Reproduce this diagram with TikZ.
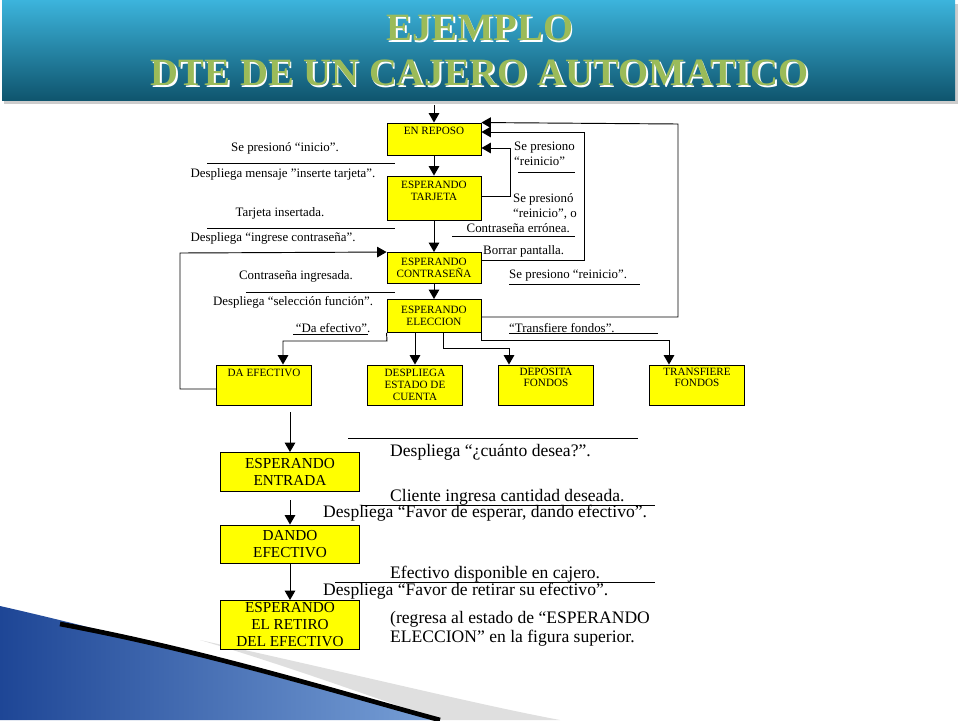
\documentclass[tikz,border=0pt]{standalone}
\usepackage{fontspec}
\setmainfont{Liberation Serif}
\usetikzlibrary{arrows.meta,shadows}
\definecolor{boxyellow}{RGB}{255,255,0}
\definecolor{titlegreen}{RGB}{155,187,89}
\definecolor{headtop}{RGB}{60,180,220}
\definecolor{headbot}{RGB}{15,85,110}
\definecolor{swoshdark}{RGB}{30,70,150}
\definecolor{swoshlight}{RGB}{120,160,215}
\tikzset{
  state/.style={draw, line width=0.8pt, fill=boxyellow, align=center, inner sep=0pt},
  small/.style={font=\fontsize{9.5}{10}\selectfont},
  big/.style={font=\fontsize{13}{14.5}\selectfont},
  lbl/.style={font=\fontsize{11}{12.5}\selectfont, inner sep=0pt},
  lblb/.style={font=\fontsize{15}{16.5}\selectfont, inner sep=0pt, anchor=west},
  flow/.style={line width=0.8pt, -{Triangle[length=8pt,width=9pt]}},
  bar/.style={line width=0.7pt}
}
\begin{document}
\begin{tikzpicture}[x=0.03cm,y=-0.03cm]
	\useasboundingbox (0,0) rectangle (960,720);
	% header
	\fill[gray!40] (4,4) rectangle (958,104);
	\shade[top color=headtop, bottom color=headbot] (2,0) rectangle (955,100);
	\foreach \t/\y in {EJEMPLO/28, DTE DE UN CAJERO AUTOMATICO/73} {
		\node[text=white, font=\fontsize{33}{35}\bfseries\selectfont] at (481.5,\y+1.5) {\t};
		\node[text=titlegreen, font=\fontsize{33}{35}\bfseries\selectfont] at (480,\y) {\t};
	}
	% swoosh
	\shade[left color=swoshdark, right color=swoshlight] (0,606) .. controls (150,640) and (320,690) .. (440,720) -- (0,720) -- cycle;
	\fill[gray!25] (200,640) .. controls (380,680) and (480,705) .. (560,720) -- (440,720) .. controls (380,700) and (300,670) .. cycle;
	\draw[line width=4pt] (60,624) .. controls (200,650) and (330,690) .. (440,720);
	% states of the upper figure
	\node[state, small, minimum width=94*0.03cm, minimum height=32*0.03cm] (reposo) at (434,139) {EN REPOSO\\[4pt]};
	\node[state, small, minimum width=94*0.03cm, minimum height=44*0.03cm] (tarjeta) at (434,198) {ESPERANDO\\TARJETA\\[2pt]};
	\node[state, small, minimum width=94*0.03cm, minimum height=31*0.03cm] (contra) at (434,268) {ESPERANDO\\CONTRASEÑA};
	\node[state, small, minimum width=94*0.03cm, minimum height=33*0.03cm] (eleccion) at (434,316) {ESPERANDO\\ELECCION};
	\node[state, small, minimum width=95*0.03cm, minimum height=40*0.03cm] (daef) at (264,385) {DA EFECTIVO\\[10pt]};
	\node[state, small, minimum width=95*0.03cm, minimum height=40*0.03cm] (estado) at (415,385) {DESPLIEGA\\ESTADO DE\\CUENTA};
	\node[state, small, minimum width=95*0.03cm, minimum height=40*0.03cm] (deposita) at (546,385) {DEPOSITA\\FONDOS\\[3pt]};
	\node[state, small, minimum width=95*0.03cm, minimum height=40*0.03cm] (transf) at (697,385) {TRANSFIERE\\FONDOS\\[3pt]};
	% states of the lower figure
	\node[state, big, minimum width=139*0.03cm, minimum height=39*0.03cm] (entrada) at (290,472) {ESPERANDO\\ENTRADA};
	\node[state, big, minimum width=139*0.03cm, minimum height=38*0.03cm] (dando) at (290,544) {DANDO\\EFECTIVO};
	\node[state, big, minimum width=139*0.03cm, minimum height=49*0.03cm] (retiro) at (290,625) {ESPERANDO\\EL RETIRO\\DEL EFECTIVO};
	\coordinate (start) at (434,105);
	\coordinate (down) at (290,412);
	% transitions
	\draw[flow] (start) -- (reposo);
	\draw[flow] (reposo) -- (tarjeta);
	\draw[flow] (tarjeta) -- (contra);
	\draw[flow] (contra) -- (eleccion);
	\draw[flow] (tarjeta.east |- 0,196) -| (510,148) -- (reposo.east |- 0,148);
	\draw[flow] (contra.east |- 0,260) -| (584,132) -- (reposo.east |- 0,132);
	\draw[flow] (eleccion.east |- 0,317) -| (678,124) -- (reposo.north east);
	\draw[flow] (daef.west |- 0,389) -| (180,253) -- (contra.north west);
	\draw[flow] (eleccion.south west) -- (387,341) -| (daef.north -| 283,0);
	\draw[flow] (eleccion.south -| estado.north) -- (estado.north);
	\draw[flow] (eleccion.south -| 443,0) |- (509,348) -- (deposita.north -| 509,0);
	\draw[flow] (eleccion.south east) |- (669,340) -- (transf.north -| 669,0);
	\draw[flow] (down) -- (entrada);
	\draw[flow] (entrada.south |- 0,500) -- (dando);
	\draw[flow] (dando) -- (retiro);
	% labels of the upper figure
	\node[lbl] at (285,148) {Se presionó “inicio”.};
	\draw[bar] (207,163) -- (395,163);
	\node[lbl] at (283,174) {Despliega mensaje ”inserte tarjeta”.};
	\node[lbl] at (280,213) {Tarjeta insertada.};
	\draw[bar] (207,228) -- (395,228);
	\node[lbl] at (273,238) {Despliega “ingrese contraseña”.};
	\node[lbl] at (296,276) {Contraseña ingresada.};
	\draw[bar] (246,292) -- (395,292);
	\node[lbl] at (293,302) {Despliega “selección función”.};
	\node[lbl] at (333,328) {“Da efectivo”.};
	\draw[bar] (293,334) -- (368,334);
	\node[lbl, align=left, anchor=west] at (514,154) {Se presiono\\“reinicio”};
	\draw[bar] (518,172) -- (575,172);
	\node[lbl, align=left, anchor=east] at (577,213) {\hspace*{3.6em}Se presionó\\\hspace*{3.6em}“reinicio”, o\\Contraseña errónea.};
	\draw[bar] (452,236) -- (575,236);
	\node[lbl, anchor=west] at (483,251) {Borrar pantalla.};
	\node[lbl, anchor=west] at (509,276) {Se presiono “reinicio”.};
	\draw[bar] (509,284) -- (640,284);
	\node[lbl, anchor=west] at (509,328) {“Transfiere fondos”.};
	\draw[bar] (509,333) -- (658,333);
	% labels of the lower figure
	\draw[bar] (348,438) -- (638,438);
	\node[lblb] at (390,452) {Despliega “¿cuánto desea?".};
	\node[lblb] at (390,497) {Cliente ingresa cantidad deseada.};
	\draw[bar] (362,505) -- (655,505);
	\node[lblb] at (323,513) {Despliega “Favor de esperar, dando efectivo”.};
	\node[lblb] at (390,574) {Efectivo disponible en cajero.};
	\draw[bar] (335,582) -- (655,582);
	\node[lblb] at (323,591) {Despliega “Favor de retirar su efectivo”.};
	\node[lblb, align=left] at (390,629) {(regresa al estado de “ESPERANDO\\ELECCION” en la figura superior.};
\end{tikzpicture}
\end{document}
